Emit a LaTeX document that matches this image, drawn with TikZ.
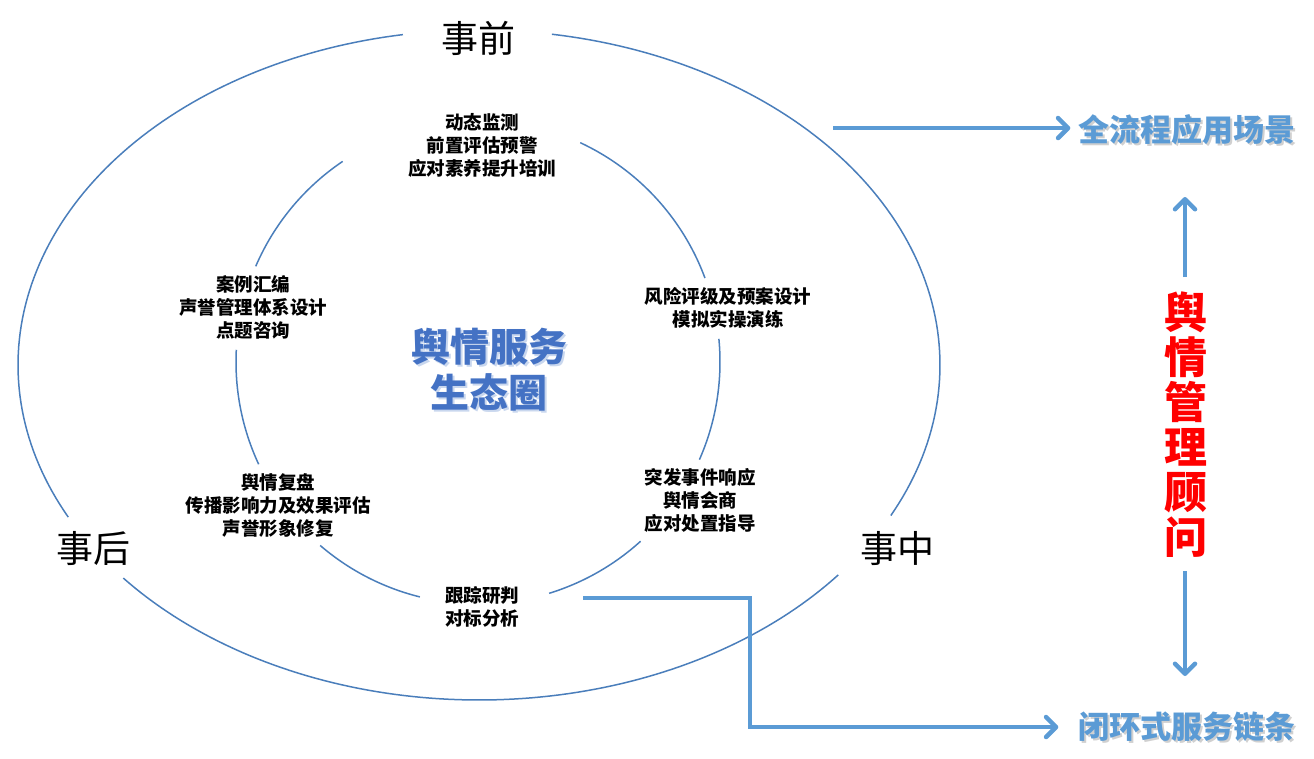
\documentclass[tikz,border=0pt]{standalone}
\usepackage{fontspec}
\newfontfamily\cjk{Noto Sans CJK SC}
\usetikzlibrary{arrows.meta}
\definecolor{ringc}{HTML}{4A7EBB}
\definecolor{arrc}{HTML}{5B9BD5}
\definecolor{ctrc}{HTML}{4472C4}
\definecolor{shc}{HTML}{C9D7EE}
\definecolor{gsh}{HTML}{D0D0D0}
\tikzset{
 ring/.style={ringc, line width=1.5pt},
 arr/.style={arrc, line width=4.5pt, line join=miter, -{Straight Barb[length=10pt,width=20pt,line cap=round,line join=round]}},
 phase/.style={font=\cjk\fontsize{37}{40}\selectfont, inner sep=0pt},
 item/.style={font=\cjk\bfseries\fontsize{18.5}{23}\selectfont, align=center, inner sep=0pt},
 center/.style={font=\cjk\bfseries\fontsize{39}{46}\selectfont, align=center, inner sep=0pt},
 side/.style={font=\cjk\bfseries\fontsize{31}{34}\selectfont, inner sep=0pt},
 adviser/.style={font=\cjk\bfseries\fontsize{43}{45}\selectfont, align=center, inner sep=0pt, red},
}
\begin{document}
\begin{tikzpicture}[x=1pt,y=-1pt]
\useasboundingbox (0,0) rectangle (1314,758);
% outer ellipse with gaps
\draw[ring] plot[domain=-80.9:26.7, samples=90] ({479+461*cos(\x)},{365+335*sin(\x)});
\draw[ring] plot[domain=38.8:140.5, samples=90] ({479+461*cos(\x)},{365+335*sin(\x)});
\draw[ring] plot[domain=153:260.5, samples=90] ({479+461*cos(\x)},{365+335*sin(\x)});
% inner circle with gaps
\draw[ring] plot[domain=-65:-20.3, samples=40] ({478+242*cos(\x)},{362+242*sin(\x)});
\draw[ring] plot[domain=-5.5:23.8, samples=40] ({478+242*cos(\x)},{362+242*sin(\x)});
\draw[ring] plot[domain=47.8:72.9, samples=40] ({478+242*cos(\x)},{362+242*sin(\x)});
\draw[ring] plot[domain=103.9:130.7, samples=40] ({478+242*cos(\x)},{362+242*sin(\x)});
\draw[ring] plot[domain=155:182.9, samples=40] ({478+242*cos(\x)},{362+242*sin(\x)});
\draw[ring] plot[domain=203.3:236, samples=40] ({478+242*cos(\x)},{362+242*sin(\x)});
% phase labels
\node[phase] (pre) at (478,38) {事前};
\node[phase] (post) at (93,548) {事后};
\node[phase] (mid) at (897,548) {事中};
% items
\node[item] (i1) at (482,145) {动态监测\\前置评估预警\\应对素养提升培训};
\node[item] (i2) at (253,307) {案例汇编\\声誉管理体系设计\\点题咨询};
\node[item] (i3) at (728,308) {风险评级及预案设计\\模拟实操演练};
\node[item] (i4) at (278,505) {舆情复盘\\传播影响力及效果评估\\声誉形象修复};
\node[item] (i5) at (700,500) {突发事件响应\\舆情会商\\应对处置指导};
\node[item] (i6) at (482,607) {跟踪研判\\对标分析};
% centre
\node[center, shc] (ctrsh) at (491,372) {舆情服务\\生态圈};
\node[center, ctrc] (ctr) at (489,370) {舆情服务\\生态圈};
% right side
\node[side, gsh] (scenesh) at (1189,132) {全流程应用场景};
\node[side, arrc] (scene) at (1187,130) {全流程应用场景};
\node[side, gsh] (loopsh) at (1189,729) {闭环式服务链条};
\node[side, arrc] (loop) at (1187,727) {闭环式服务链条};
\node[adviser] (adv) at (1186,425) {舆\\情\\管\\理\\顾\\问};
% connectors
\coordinate (a0) at (833,128);
\draw[arr, shorten >=8pt] (a0) -- (scene.west |- a0);
\coordinate (advTop) at (1185,277);
\coordinate (advBot) at (1185,571);
\coordinate (upTip) at (1185,197);
\coordinate (dnTip) at (1185,676);
\draw[arr] (advTop) -- (upTip);
\draw[arr] (advBot) -- (dnTip);
\coordinate (b0) at (583,598);
\coordinate (b1) at (750,598);
\coordinate (b2) at (750,727);
\draw[arr, shorten >=20pt] (b0) -- (b1) -- (b2) -- (loop.west |- b2);
\end{tikzpicture}
\end{document}
